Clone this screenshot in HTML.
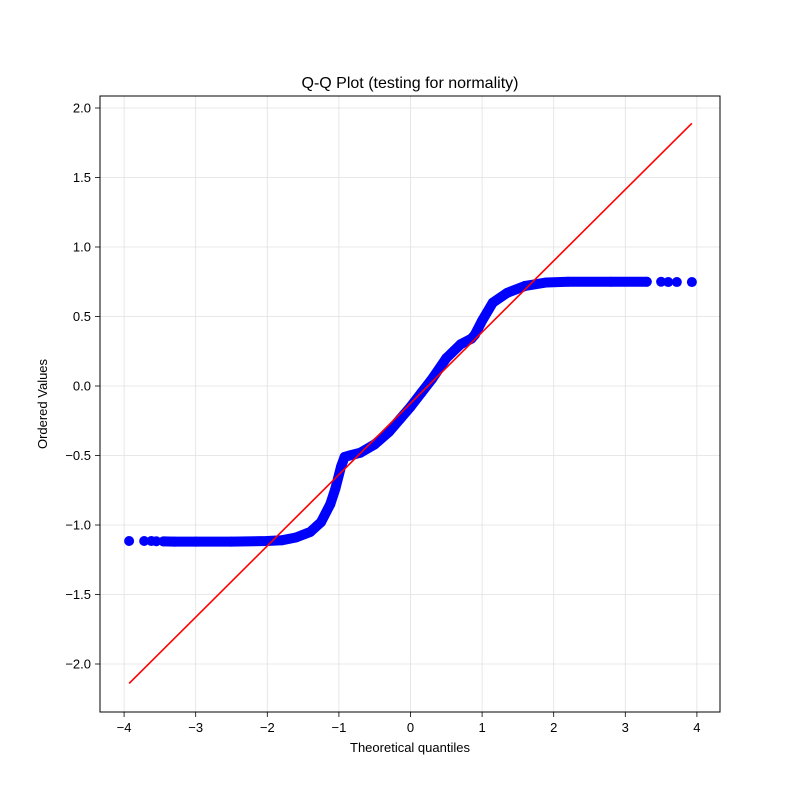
<!DOCTYPE html>
<html><head><meta charset="utf-8">
<style>
html,body{margin:0;padding:0;background:#fff;}
svg{display:block;font-family:"Liberation Sans","DejaVu Sans",sans-serif;}
</style></head>
<body>
<svg id="chart" width="800" height="800" viewBox="0 0 800 800" xmlns="http://www.w3.org/2000/svg">
<rect width="800" height="800" fill="#fff"/>
<g id="grid"></g>
<g id="marks"></g>
<rect x="100" y="96" width="620" height="616" fill="none" stroke="#000" stroke-width="1"/>
<g id="ticks"></g>
<text x="410" y="88" text-anchor="middle" font-size="16">Q-Q Plot (testing for normality)</text>
<text x="410" y="752" text-anchor="middle" font-size="13">Theoretical quantiles</text>
<text x="47" y="404" text-anchor="middle" font-size="13" transform="rotate(-90 47 404)">Ordered Values</text>
</svg>
<script>
const xTicks = [-4,-3,-2,-1,0,1,2,3,4];
const yTicks = [-2.0,-1.5,-1.0,-0.5,0.0,0.5,1.0,1.5,2.0];
const qVals = [-3.93,-3.72,-3.62,-3.55,-3.45,-3.3,-3.0,-2.5,-2.0,-1.8,-1.6,-1.4,-1.25,-1.12,-1.05,-0.97,-0.92,-0.85,-0.7,-0.5,-0.3,-0.15,0,0.15,0.3,0.5,0.7,0.85,0.9,1.0,1.15,1.35,1.6,1.9,2.2,2.8,3.3,3.5,3.6,3.72,3.93];
const oVals = [-1.115,-1.115,-1.115,-1.117,-1.118,-1.12,-1.12,-1.12,-1.115,-1.11,-1.09,-1.05,-0.98,-0.85,-0.74,-0.58,-0.51,-0.5,-0.48,-0.42,-0.33,-0.24,-0.15,-0.05,0.05,0.2,0.3,0.34,0.37,0.47,0.6,0.67,0.72,0.745,0.75,0.75,0.75,0.75,0.748,0.748,0.748];
const fitX = [-3.93,3.93];
const fitY = [-2.14,1.89];

const NS="http://www.w3.org/2000/svg";
function sx(q){return 410.5+71.6*q;}
function sy(v){return 386-139*v;}
function mk(tag,attrs,parent){const e=document.createElementNS(NS,tag);for(const k in attrs)e.setAttribute(k,attrs[k]);parent.appendChild(e);return e;}
const grid=document.getElementById('grid'),ticks=document.getElementById('ticks'),marks=document.getElementById('marks');
xTicks.forEach(t=>{
  const x=sx(t);
  const g=mk('line',{x1:x,x2:x,y1:96,y2:712,stroke:'#e0e0e0','stroke-width':0.8},grid);
  
  
  const l=mk('line',{x1:x,x2:x,y1:712,y2:717,stroke:'#000','stroke-width':0.8},ticks);
  
  
  const tx=mk('text',{x:x,y:732,'text-anchor':'middle','font-size':13},ticks);
  tx.textContent=(t<0?'\u2212'+(-t):String(t));
  
  
});
yTicks.forEach(t=>{
  const y=sy(t);
  const g=mk('line',{x1:100,x2:720,y1:y,y2:y,stroke:'#e0e0e0','stroke-width':0.8},grid);
  
  
  const l=mk('line',{x1:95,x2:100,y1:y,y2:y,stroke:'#000','stroke-width':0.8},ticks);
  
  
  const tx=mk('text',{x:91,y:y+4.5,'text-anchor':'end','font-size':13},ticks);
  tx.textContent=(t<0?'\u2212'+(-t).toFixed(1):t.toFixed(1));
  
  
});
// dense band connecting inner points
let d='';
for(let i=4;i<qVals.length-4;i++){d+=(i===4?'M':'L')+sx(qVals[i])+','+sy(oVals[i]);}
const band=mk('path',{d:d,fill:'none',stroke:'#0000ff','stroke-width':10,'stroke-linejoin':'round','stroke-linecap':'round'},marks);


qVals.forEach((q,i)=>{
  const c=mk('circle',{cx:sx(q),cy:sy(oVals[i]),r:5,fill:'#0000ff'},marks);
  
  
});
const fl=mk('line',{x1:sx(fitX[0]),y1:sy(fitY[0]),x2:sx(fitX[1]),y2:sy(fitY[1]),stroke:'#ff0000','stroke-width':1.6},marks);


</script>
</body></html>
